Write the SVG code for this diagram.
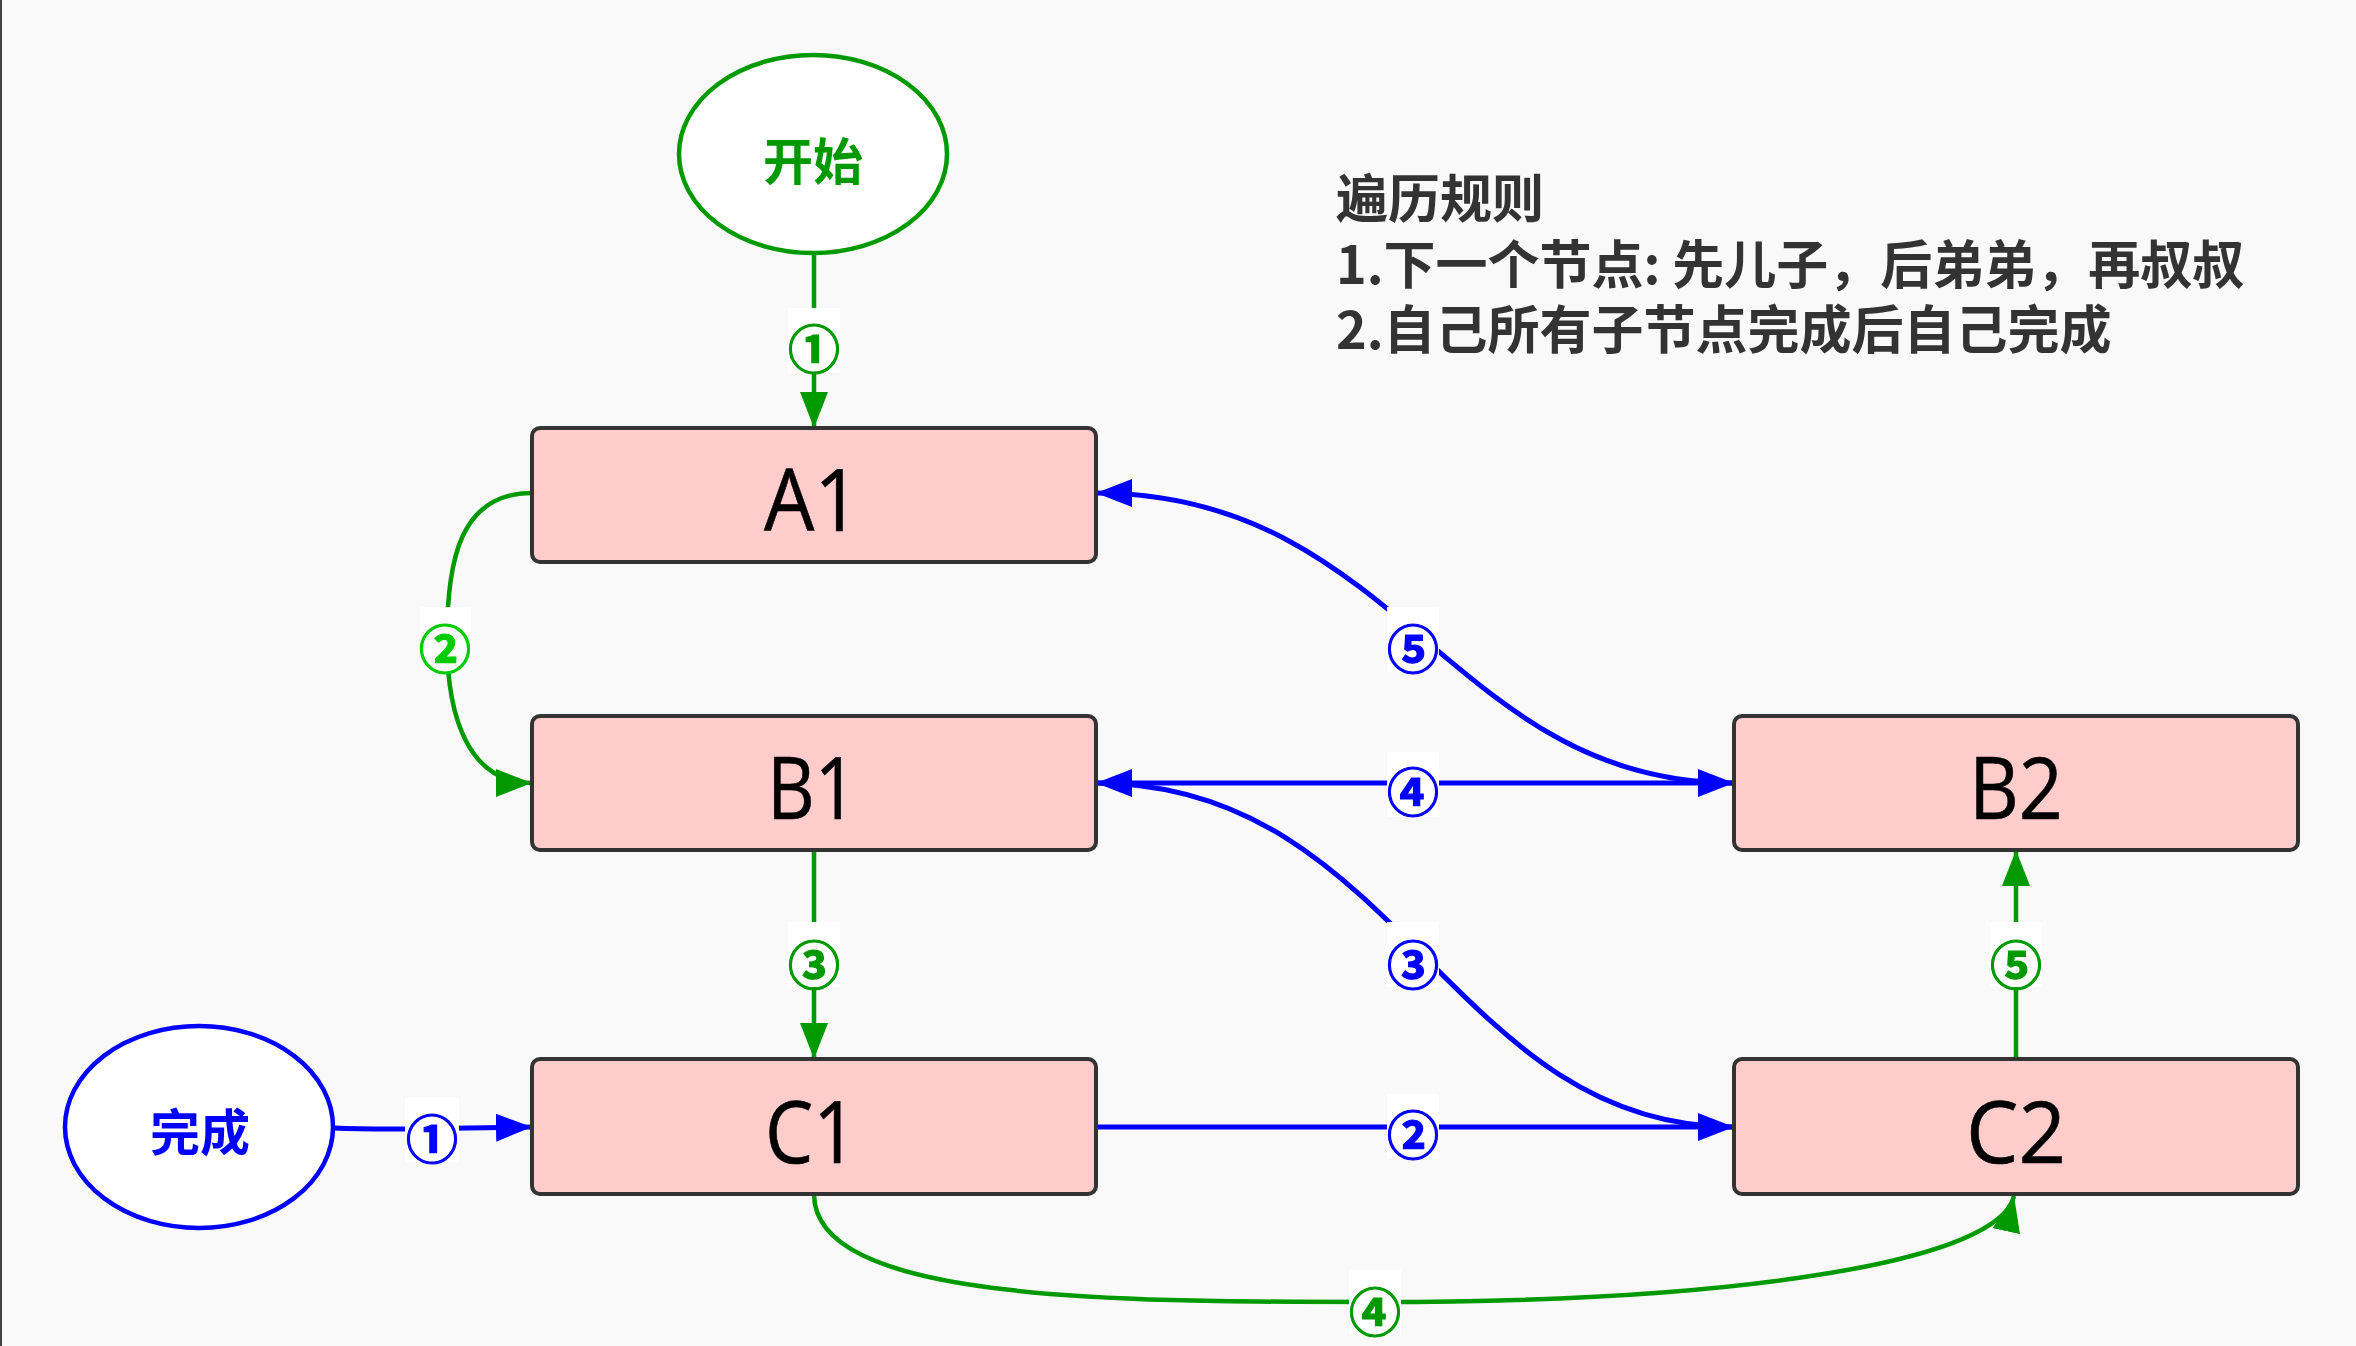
<svg xmlns="http://www.w3.org/2000/svg" width="2356" height="1346" viewBox="0 0 2356 1346">
<defs>
<marker id="ag" markerUnits="userSpaceOnUse" markerWidth="40" markerHeight="30" refX="36" refY="14" orient="auto"><path d="M0,0 L36,14 L0,28 z" fill="#009900"/></marker>
<marker id="ab" markerUnits="userSpaceOnUse" markerWidth="40" markerHeight="30" refX="36" refY="14" orient="auto"><path d="M0,0 L36,14 L0,28 z" fill="#0000ff"/></marker>
<style>
.node rect{fill:#ffcccc;stroke:#333;stroke-width:4}
.nt{font-family:"Open Sans","Noto Sans",sans-serif;font-size:86px;fill:#000;stroke:#000;stroke-width:0.6;text-anchor:middle}
.et{font-family:"Noto Sans CJK SC",sans-serif;font-size:50px;font-weight:bold;text-anchor:middle}
.g{stroke:#009900;stroke-width:4.5;fill:none;marker-end:url(#ag)}
.b{stroke:#0000ff;stroke-width:5;fill:none;marker-end:url(#ab)}
.lb{fill:#ffffff}
.lt{font-family:"Noto Sans CJK SC",sans-serif;font-size:52px;font-weight:bold;stroke-width:1.2;text-anchor:middle}
.rule{font-family:"Noto Sans CJK SC",sans-serif;font-size:52px;font-weight:bold;fill:#333}
</style>
</defs>
<rect x="0" y="0" width="2356" height="1346" fill="#f9f9f9"/>
<line x1="1" y1="0" x2="1" y2="1346" stroke="#444" stroke-width="2"/>

<g id="connectors">
<path class="g" d="M814,253 L814,428"/>
<path class="g" d="M532,493 C460,493 447,560 447,640 C447,720 470,783 532,783"/>
<path class="g" d="M814,850 L814,1059"/>
<path class="g" d="M814,1194 C814,1300 1100,1302 1375,1302 C1750,1302 2000,1260 2014,1196"/>
<path class="g" d="M2016,1059 L2016,850"/>
<path class="b" d="M333,1128 C380,1130 420,1129 532,1127"/>
<path class="b" d="M1096,1127 L1734,1127"/>
<path class="b" d="M1734,1127 C1450,1127 1400,783 1096,783"/>
<path class="b" d="M1096,783 L1734,783"/>
<path class="b" d="M1734,783 C1450,783 1400,493 1096,493"/>

<g id="labels">
<rect class="lb" x="788" y="308" width="52" height="65"/>
<text class="lt" x="814" y="369" fill="#009900" stroke="#009900">①</text>
<rect class="lb" x="420" y="607" width="51" height="65"/>
<text class="lt" x="445" y="669" fill="#00cc00" stroke="#00cc00">②</text>
<rect class="lb" x="788" y="922" width="52" height="65"/>
<text class="lt" x="814" y="985" fill="#009900" stroke="#009900">③</text>
<rect class="lb" x="1349" y="1270" width="52" height="65"/>
<text class="lt" x="1375" y="1332" fill="#009900" stroke="#009900">④</text>
<rect class="lb" x="1990" y="922" width="52" height="65"/>
<text class="lt" x="2016" y="985" fill="#009900" stroke="#009900">⑤</text>
<rect class="lb" x="405" y="1097" width="54" height="65"/>
<text class="lt" x="432" y="1159" fill="#0000ff" stroke="#0000ff">①</text>
<rect class="lb" x="1387" y="1094" width="52" height="65"/>
<text class="lt" x="1413" y="1155" fill="#0000ff" stroke="#0000ff">②</text>
<rect class="lb" x="1387" y="922" width="52" height="65"/>
<text class="lt" x="1413" y="985" fill="#0000ff" stroke="#0000ff">③</text>
<rect class="lb" x="1387" y="752" width="52" height="65"/>
<text class="lt" x="1413" y="812" fill="#0000ff" stroke="#0000ff">④</text>
<rect class="lb" x="1387" y="607" width="52" height="65"/>
<text class="lt" x="1413" y="669" fill="#0000ff" stroke="#0000ff">⑤</text>
</g>
</g>

<g id="start">
<ellipse cx="813" cy="154" rx="134" ry="99" fill="#ffffff" stroke="#009900" stroke-width="4.5"/>
<text class="et" x="813" y="180" fill="#009900">开始</text>
</g>
<g id="done">
<ellipse cx="199" cy="1127" rx="134" ry="101" fill="#ffffff" stroke="#0000ff" stroke-width="4.5"/>
<text class="et" x="200" y="1151" fill="#0000ff">完成</text>
</g>
<g id="A1" class="node"><rect x="532" y="428" width="564" height="134" rx="8"/><text class="nt" x="812" y="531" textLength="96" lengthAdjust="spacingAndGlyphs">A1</text></g>
<g id="B1" class="node"><rect x="532" y="716" width="564" height="134" rx="8"/><text class="nt" x="812" y="819" textLength="90" lengthAdjust="spacingAndGlyphs">B1</text></g>
<g id="C1" class="node"><rect x="532" y="1059" width="564" height="135" rx="8"/><text class="nt" x="811" y="1163" textLength="92" lengthAdjust="spacingAndGlyphs">C1</text></g>
<g id="B2" class="node"><rect x="1734" y="716" width="564" height="134" rx="8"/><text class="nt" x="2016" y="819" textLength="94" lengthAdjust="spacingAndGlyphs">B2</text></g>
<g id="C2" class="node"><rect x="1734" y="1059" width="564" height="135" rx="8"/><text class="nt" x="2016" y="1163" textLength="100" lengthAdjust="spacingAndGlyphs">C2</text></g>

<g id="rules">
<text class="rule" x="1336" y="218">遍历规则<tspan x="1336" dy="66">1.下一个节点: 先儿子，后弟弟，再叔叔</tspan><tspan x="1336" dy="65">2.自己所有子节点完成后自己完成</tspan></text>
</g>
</svg>
